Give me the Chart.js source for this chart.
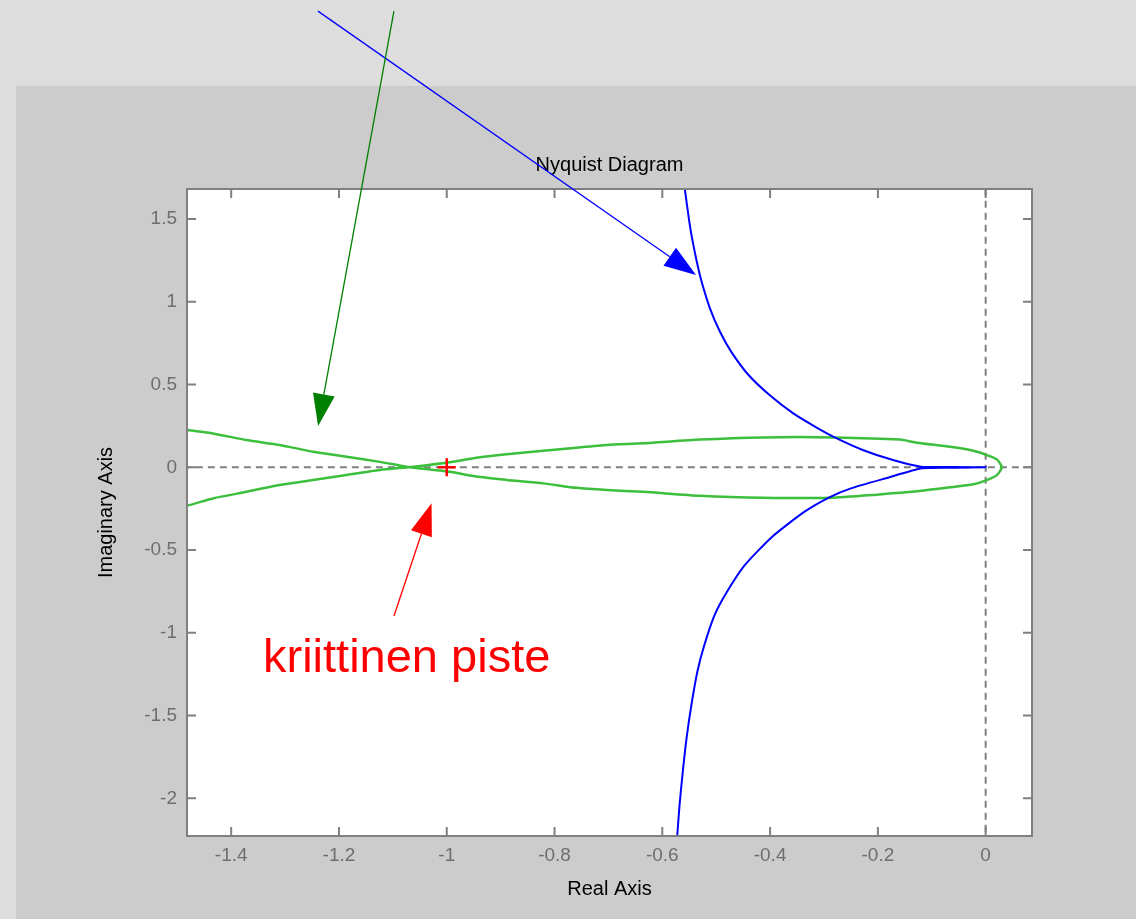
<!DOCTYPE html>
<html>
<head>
<meta charset="utf-8">
<script src="https://cdn.jsdelivr.net/npm/chart.js@4.4.1/dist/chart.umd.min.js"></script>
<style>
  body { margin: 0; background: #dddddd; width: 1136px; height: 919px; overflow: hidden; position: relative; }
  #panel { position: absolute; left: 16px; top: 86px; width: 1120px; height: 833px; background: #cccccc; }
  #nyquist { position: absolute; left: 0; top: 0; }
</style>
</head>
<body>
<div id="panel"></div>
<canvas id="nyquist" width="1136" height="919"></canvas>
<script>
// values: real part / imaginary part
const blueRe = [-0.574, -0.5722, -0.568, -0.562, -0.555, -0.546, -0.535, -0.522, -0.503, -0.480, -0.447, -0.396, -0.336, -0.290, -0.250, -0.185, -0.118, -0.06, 0,
                -0.06, -0.120, -0.172, -0.228, -0.280, -0.316, -0.357, -0.401, -0.440, -0.472, -0.493, -0.512, -0.527, -0.536, -0.548, -0.558, -0.563];
const blueIm = [-2.30, -2.222, -2.040, -1.839, -1.637, -1.436, -1.235, -1.074, -0.893, -0.752, -0.591, -0.419, -0.268, -0.181, -0.127, -0.066, -0.006, -0.002, 0,
                0.002, 0.004, 0.044, 0.105, 0.181, 0.245, 0.326, 0.437, 0.558, 0.698, 0.819, 0.964, 1.121, 1.242, 1.444, 1.676, 1.80];

const greenRe = [-1.55, -1.482, -1.434, -1.372, -1.310, -1.248, -1.186, -1.124, -1.075, -0.994, -0.945, -0.889, -0.821, -0.759, -0.703, -0.635, -0.530, -0.4126, -0.2887, -0.202, -0.1277, -0.0659, -0.0227, 0.0022, 0.0208, 0.030,
                 0.0208, 0.0022, -0.0227, -0.0659, -0.1277, -0.159, -0.283, -0.4126, -0.530, -0.635, -0.703, -0.759, -0.821, -0.889, -0.945, -0.988, -1.062, -1.124, -1.186, -1.248, -1.310, -1.372, -1.434, -1.482, -1.55];
const greenIm = [0.255, 0.225, 0.205, 0.165, 0.135, 0.094, 0.064, 0.033, 0.004, -0.027, -0.056, -0.076, -0.097, -0.124, -0.137, -0.148, -0.172, -0.184, -0.184, -0.165, -0.145, -0.121, -0.102, -0.077, -0.047, 0,
                 0.048, 0.074, 0.100, 0.124, 0.149, 0.168, 0.181, 0.181, 0.168, 0.145, 0.135, 0.119, 0.100, 0.079, 0.058, 0.034, 0.004, -0.016, -0.046, -0.077, -0.107, -0.148, -0.188, -0.232, -0.265];

const criticalRe = [-1];
const criticalIm = [0];

const xTicks = [-1.4, -1.2, -1, -0.8, -0.6, -0.4, -0.2, 0];
const yTicks = [-2, -1.5, -1, -0.5, 0, 0.5, 1, 1.5];

// annotation arrows, [from, to] in axis units
const annotArrows = [
  { from: [-1.239, 2.757], to: [-0.5375, 1.162], color: '#0000ff' },
  { from: [-1.098, 2.757], to: [-1.2388, 0.2495], color: '#008000' },
  { from: [-1.098, -0.8985], to: [-1.0282, -0.2175], color: '#ff0000' }
];
const annotText = { text: 'kriittinen piste', at: [-1.341, -1.235] };

const FONT = '"Liberation Sans", Arial, sans-serif';

function toPoints(re, im) {
  return re.map((v, i) => ({ x: v, y: im[i] }));
}

function fmt(v) {
  return String(Number(v.toFixed(1)));
}

const matlabFrame = {
  id: 'matlabFrame',
  beforeDraw(chart) {
    const { ctx, chartArea: a } = chart;
    ctx.save();
    ctx.fillStyle = '#ffffff';
    ctx.fillRect(a.left, a.top, a.right - a.left, a.bottom - a.top);
    ctx.restore();
  },
  afterDatasetsDraw(chart) {
    const { ctx, chartArea: a, scales } = chart;
    const tl = 9;
    ctx.save();
    ctx.strokeStyle = '#808080';
    ctx.lineWidth = 2;
    ctx.beginPath();
    scales.x.ticks.forEach(t => {
      const px = scales.x.getPixelForValue(t.value);
      ctx.moveTo(px, a.top); ctx.lineTo(px, a.top + tl);
      ctx.moveTo(px, a.bottom); ctx.lineTo(px, a.bottom - tl);
    });
    scales.y.ticks.forEach(t => {
      const py = scales.y.getPixelForValue(t.value);
      ctx.moveTo(a.left, py); ctx.lineTo(a.left + tl, py);
      ctx.moveTo(a.right, py); ctx.lineTo(a.right - tl, py);
    });
    ctx.stroke();
    ctx.strokeRect(a.left, a.top, a.right - a.left, a.bottom - a.top);
    ctx.restore();
  },
  afterDraw(chart) {
    const { ctx, scales: { x, y } } = chart;
    ctx.save();
    annotArrows.forEach(ar => {
      const x0 = x.getPixelForValue(ar.from[0]), y0 = y.getPixelForValue(ar.from[1]);
      const x1 = x.getPixelForValue(ar.to[0]), y1 = y.getPixelForValue(ar.to[1]);
      const ang = Math.atan2(y1 - y0, x1 - x0);
      const len = 32, half = 11;
      const bx = x1 - len * Math.cos(ang), by = y1 - len * Math.sin(ang);
      ctx.strokeStyle = ar.color;
      ctx.fillStyle = ar.color;
      ctx.lineWidth = 1.3;
      ctx.beginPath();
      ctx.moveTo(x0, y0);
      ctx.lineTo(bx, by);
      ctx.stroke();
      ctx.beginPath();
      ctx.moveTo(x1, y1);
      ctx.lineTo(bx + half * Math.sin(ang), by - half * Math.cos(ang));
      ctx.lineTo(bx - half * Math.sin(ang), by + half * Math.cos(ang));
      ctx.closePath();
      ctx.fill();
    });
    ctx.fillStyle = '#ff0000';
    ctx.font = '47px ' + FONT;
    ctx.textAlign = 'left';
    ctx.textBaseline = 'alphabetic';
    ctx.fillText(annotText.text, x.getPixelForValue(annotText.at[0]), y.getPixelForValue(annotText.at[1]));
    ctx.restore();
  }
};

new Chart(document.getElementById('nyquist'), {
  type: 'scatter',
  data: {
    datasets: [
      {
        data: toPoints(criticalRe, criticalIm),
        pointStyle: 'cross', pointRadius: 9, borderColor: '#ff0000', borderWidth: 2.5,
        order: 0
      },
      {
        data: toPoints(blueRe, blueIm),
        showLine: true, borderColor: '#0000ff', borderWidth: 2, pointRadius: 0, tension: 0.2,
        order: 1
      },
      {
        data: toPoints(greenRe, greenIm),
        showLine: true, borderColor: '#3cbf3c', borderWidth: 2.5, pointRadius: 0, tension: 0.2,
        order: 2
      },
      {
        data: [{ x: -2, y: 0 }, { x: 1, y: 0 }],
        showLine: true, borderColor: '#808080', borderWidth: 2, borderDash: [7, 5], pointRadius: 0,
        order: 3
      },
      {
        data: [{ x: 0, y: -3 }, { x: 0, y: 3 }],
        showLine: true, borderColor: '#808080', borderWidth: 2, borderDash: [7, 5], pointRadius: 0,
        order: 3
      }
    ]
  },
  options: {
    responsive: false,
    animation: false,
    events: [],
    layout: { padding: { left: 0, right: 104, top: 0, bottom: 0 } },
    plugins: {
      legend: { display: false },
      tooltip: { enabled: false },
      title: {
        display: true,
        text: 'Nyquist Diagram',
        color: '#000000',
        fullSize: false,
        font: { family: FONT, size: 20, weight: 'normal' },
        padding: { top: 153, bottom: 12 }
      }
    },
    scales: {
      x: {
        type: 'linear',
        min: -1.482,
        max: 0.086,
        grid: { display: false, drawTicks: false },
        border: { display: false },
        afterBuildTicks: s => { s.ticks = xTicks.map(v => ({ value: v })); },
        afterFit: s => { s.height = 83; },
        ticks: {
          padding: 8, color: '#6e6e6e', autoSkip: false, maxRotation: 0,
          font: { family: FONT, size: 19 },
          callback: v => fmt(v)
        },
        title: {
          display: true, text: 'Real Axis', color: '#000000',
          font: { family: FONT, size: 20 },
          padding: { top: 0, bottom: 18 }
        }
      },
      y: {
        type: 'linear',
        min: -2.228,
        max: 1.682,
        grid: { display: false, drawTicks: false },
        border: { display: false },
        afterBuildTicks: s => { s.ticks = yTicks.map(v => ({ value: v })); },
        afterFit: s => { s.width = 187; },
        ticks: {
          padding: 10, color: '#6e6e6e', autoSkip: false,
          font: { family: FONT, size: 19 },
          callback: v => fmt(v)
        },
        title: {
          display: true, text: 'Imaginary Axis', color: '#000000',
          font: { family: FONT, size: 20 },
          padding: { top: 94, bottom: 0 }
        }
      }
    }
  },
  plugins: [matlabFrame]
});
</script>
</body>
</html>
